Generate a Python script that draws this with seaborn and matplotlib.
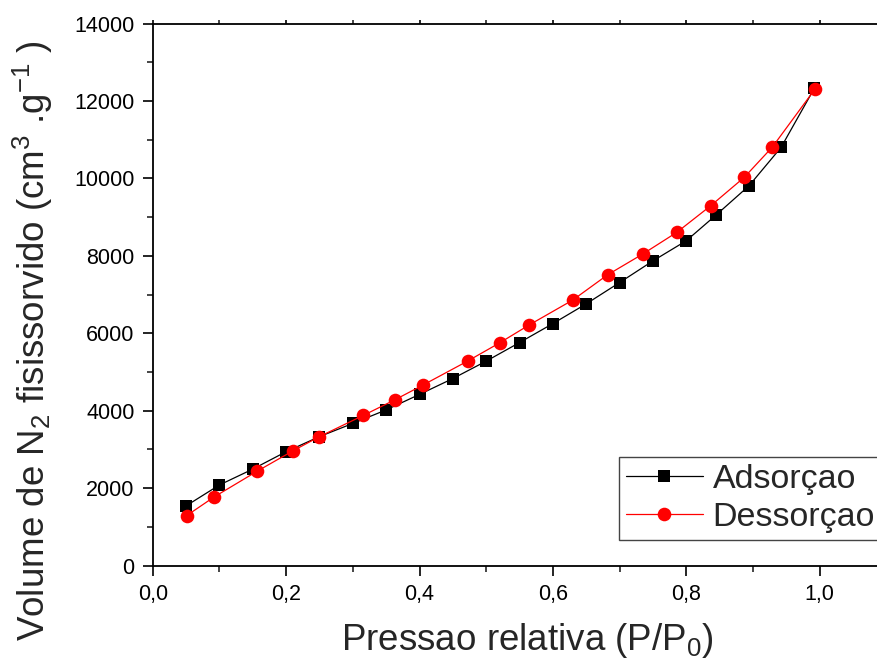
import matplotlib
matplotlib.use("Agg")
import matplotlib.pyplot as plt
import seaborn as sns
import pandas as pd
from matplotlib.ticker import MultipleLocator, FixedLocator, FixedFormatter

# ---- data ----
ads_p = [0.05, 0.10, 0.15, 0.20, 0.25, 0.30, 0.35, 0.40, 0.45, 0.50, 0.55, 0.60,
         0.65, 0.70, 0.75, 0.80, 0.845, 0.894, 0.942, 0.992]
ads_v = [1540, 2080, 2490, 2940, 3330, 3670, 4020, 4420, 4830, 5280, 5760, 6250,
         6760, 7310, 7870, 8390, 9060, 9810, 10800, 12330]
des_p = [0.051, 0.092, 0.157, 0.210, 0.250, 0.316, 0.363, 0.405, 0.472, 0.521,
         0.564, 0.630, 0.682, 0.735, 0.786, 0.837, 0.887, 0.929, 0.993]
des_v = [1290, 1770, 2440, 2960, 3330, 3880, 4280, 4660, 5280, 5760,
         6210, 6860, 7510, 8050, 8610, 9300, 10030, 10810, 12310]
series_names = ["Adsorçao", "Dessorçao"]
x_ticks = [0.0, 0.2, 0.4, 0.6, 0.8, 1.0]
x_tick_labels = ["0,0", "0,2", "0,4", "0,6", "0,8", "1,0"]
y_ticks = [0, 2000, 4000, 6000, 8000, 10000, 12000, 14000]
y_tick_labels = ["0", "2000", "4000", "6000", "8000", "10000", "12000", "14000"]

sns.set_style("ticks")
plt.rcParams["font.family"] = ["Liberation Sans", "DejaVu Sans"]
plt.rcParams["mathtext.fontset"] = "custom"
plt.rcParams["mathtext.rm"] = "Liberation Sans"
plt.rcParams["mathtext.it"] = "Liberation Sans:italic"
plt.rcParams["mathtext.bf"] = "Liberation Sans:bold"

fig = plt.figure(figsize=(8.77, 6.64), dpi=100)
ax = fig.add_axes([152.7 / 877, (664 - 565.5) / 664, 1 - 152.7 / 877, 541.9 / 664])

df_a = pd.DataFrame({"p": ads_p, "v": ads_v})
df_d = pd.DataFrame({"p": des_p, "v": des_v})

sns.lineplot(data=df_a, x="p", y="v", ax=ax, sort=False, color="black", lw=0.9,
             marker="s", markersize=8.3, markeredgewidth=0, label=series_names[0],
             clip_on=False)
sns.lineplot(data=df_d, x="p", y="v", ax=ax, sort=False, color="#ff0000", lw=0.9,
             marker="o", markersize=9.8, markeredgewidth=0, label=series_names[1],
             clip_on=False)

ax.set_xlim(0, (877 - 152.7) / 667)
ax.set_ylim(0, 14000)

ax.xaxis.set_major_locator(FixedLocator(x_ticks))
ax.xaxis.set_major_formatter(FixedFormatter(x_tick_labels))
ax.xaxis.set_minor_locator(MultipleLocator(0.1))
ax.yaxis.set_major_locator(FixedLocator(y_ticks))
ax.yaxis.set_major_formatter(FixedFormatter(y_tick_labels))
ax.yaxis.set_minor_locator(MultipleLocator(1000))

ax.tick_params(axis="both", which="major", direction="out", length=7, width=1.2,
               labelsize=15.5, pad=6, colors="black")
ax.tick_params(axis="both", which="minor", direction="out", length=4, width=1.2)
ax.tick_params(axis="x", which="both", top=True, labeltop=False)

for side in ["left", "bottom", "top"]:
    ax.spines[side].set_visible(True)
    ax.spines[side].set_linewidth(1.3)
    ax.spines[side].set_color("black")
ax.spines["right"].set_visible(False)

# top ticks smaller
for t in ax.xaxis.get_major_ticks() + ax.xaxis.get_minor_ticks():
    t.tick2line.set_markersize(3)

ax.set_xlabel(r"Pressao relativa (P/P$_\mathregular{0}$)", fontsize=26.5, ha="center", va="baseline")
ax.xaxis.set_label_coords(0.5175, -0.156)
ax.set_ylabel(r"Volume de N$_\mathregular{2}$ fisissorvido (cm$^\mathregular{3}$ .g$^\mathregular{-1}$ )",
              fontsize=26.5, ha="center", va="center")
ax.yaxis.set_label_coords(-0.166, 0.415)

leg = ax.legend(loc="upper left", bbox_to_anchor=(0.644, 0.200), fontsize=24.5,
                frameon=True, fancybox=False, edgecolor="#444444", framealpha=1,
                handlelength=2.25, handletextpad=0.3, borderpad=0.2,
                labelspacing=0.2, borderaxespad=0)
leg.get_frame().set_linewidth(1.0)

fig.savefig("out.png", dpi=100)
